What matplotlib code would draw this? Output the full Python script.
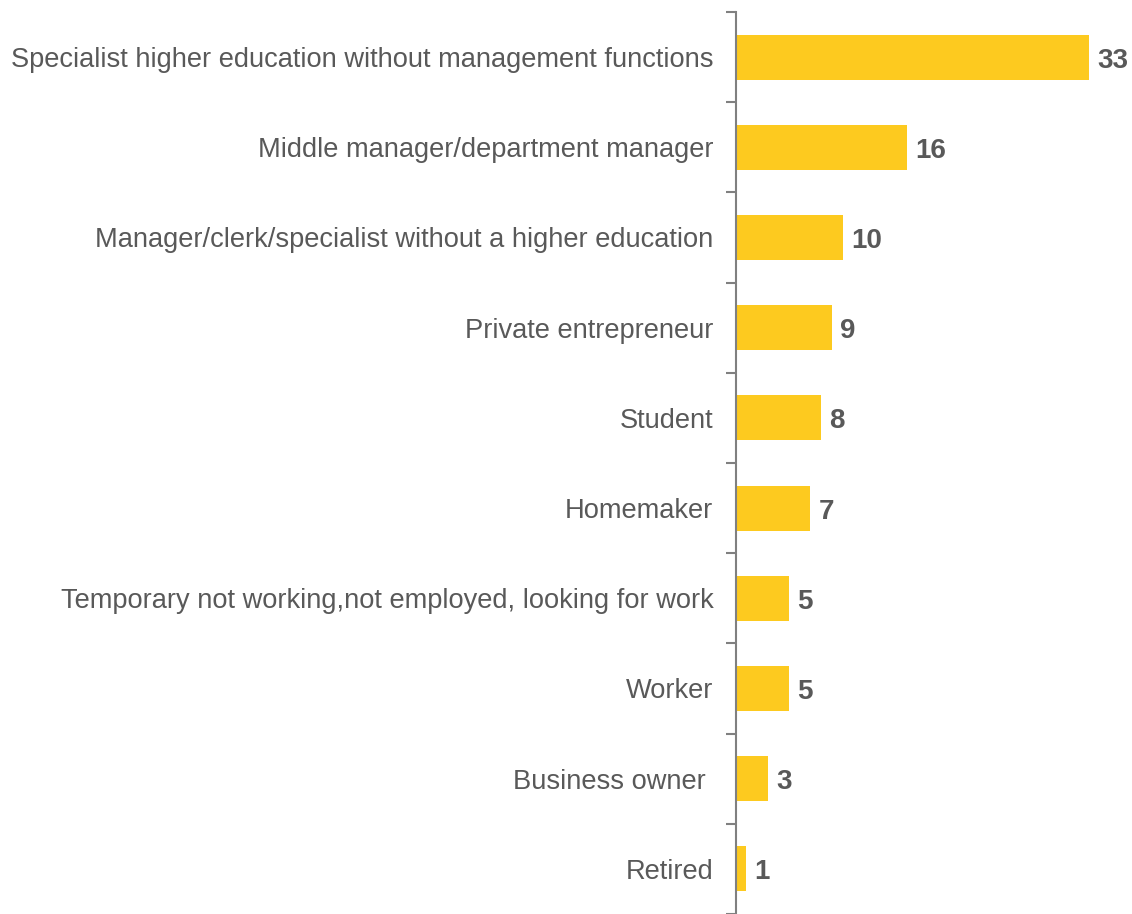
import matplotlib
matplotlib.use("Agg")
import matplotlib.pyplot as plt
from matplotlib.ticker import FixedLocator

# Occupation of respondents, %
categories = [
    "Specialist higher education without management functions",
    "Middle manager/department manager",
    "Manager/clerk/specialist without a higher education",
    "Private entrepreneur",
    "Student",
    "Homemaker",
    "Temporary not working,not employed, looking for work",
    "Worker",
    "Business owner ",
    "Retired",
]
values = [33, 16, 10, 9, 8, 7, 5, 5, 3, 1]

bar_color = "#FDCA1F"
text_color = "#595959"
axis_color = "#808080"

plt.rcParams["font.family"] = ["Liberation Sans", "DejaVu Sans"]

fig = plt.figure(figsize=(11.32, 9.14), dpi=100)
ax = fig.add_axes([735.5 / 1132, 0, 1 - 735.5 / 1132, (914 - 12) / 914])

y = list(range(len(categories)))
ax.barh(y, values, height=0.5, color=bar_color, zorder=2)

ax.set_ylim(len(categories) - 0.5, -0.5)
ax.set_xlim(0, (1132 - 735.5) / 10.71)

ax.set_yticks(y)
ax.set_yticklabels(categories, fontsize=19.6, color=text_color)
ax.tick_params(axis="y", which="major", length=0, pad=16)
ax.yaxis.set_minor_locator(FixedLocator([i - 0.5 for i in range(len(categories) + 1)]))
ax.tick_params(axis="y", which="minor", length=7, width=1.5, color=axis_color)
ax.set_xticks([])

for side in ["top", "right", "bottom"]:
    ax.spines[side].set_visible(False)
ax.spines["left"].set_color(axis_color)
ax.spines["left"].set_linewidth(1.5)

# value labels just right of each bar
for yi, v in zip(y, values):
    ax.annotate(str(v), xy=(v, yi), xytext=(6, -2.5), textcoords="offset points",
                ha="left", va="center", fontsize=20, fontweight="bold",
                color=text_color)

fig.savefig("out.png", dpi=100)
